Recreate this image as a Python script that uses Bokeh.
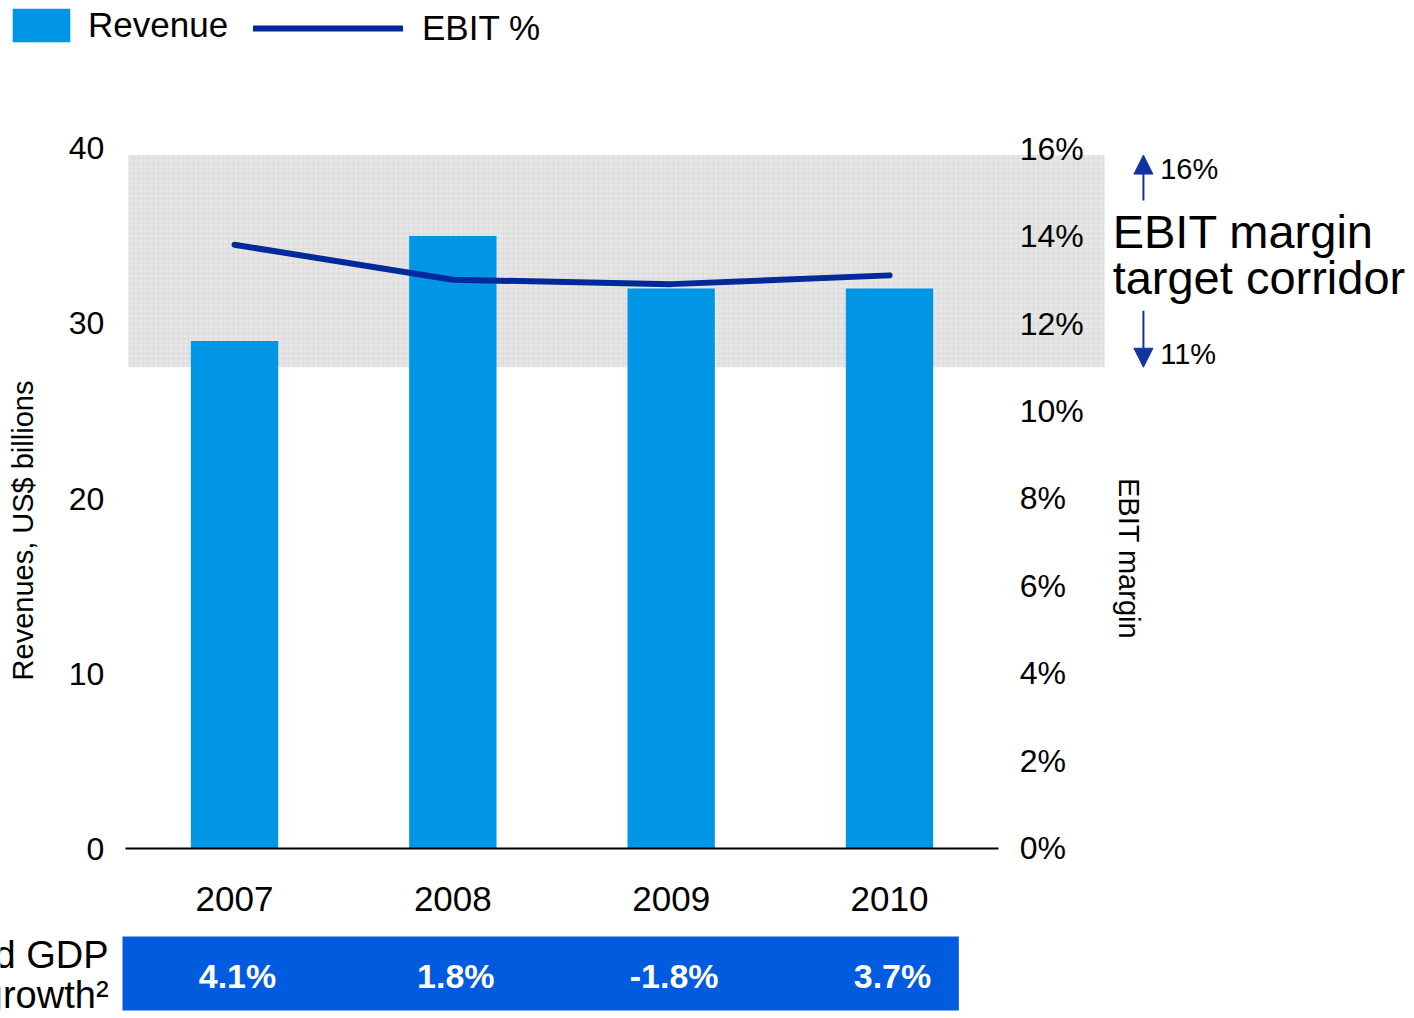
from bokeh.plotting import figure
from bokeh.models import (Range1d, LinearAxis, FixedTicker, Legend, LegendItem,
                          Arrow, NormalHead)
from bokeh.core.properties import value
from bokeh.embed import file_html
from bokeh.resources import INLINE
import math

# ---------------- data ----------------
years = ["2007", "2008", "2009", "2010"]
revenue = [29.0, 35.0, 32.0, 32.0]          # US$ billions
ebit_pct = [13.8, 13.0, 12.9, 13.1]         # EBIT margin, %
gdp_growth = ["4.1%", "1.8%", "-1.8%", "3.7%"]
revenue_ticks = [0, 10, 20, 30, 40]
pct_ticks = [0, 2, 4, 6, 8, 10, 12, 14, 16]
pct_tick_labels = ["0%", "2%", "4%", "6%", "8%", "10%", "12%", "14%", "16%"]
corridor_pct = [11.0, 15.85]                 # drawn band (low, high)
corridor_labels = ["16%", "11%"]
gdp_label = ["World GDP", "growth\u00b2"]

FONT_S = "Liberation Sans"
FONT = value(FONT_S)
BAR_C = "#0096e6"
LINE_C = "#00299a"
GDP_C = "#005bdf"
ARROW_C = "#12349e"

xs = list(range(len(years)))

W, H = 1414, 1018
p = figure(width=W, height=H, output_backend="svg", toolbar_location=None,
           x_range=Range1d(-1.0718, 5.4046), y_range=Range1d(-9.714, 48.457),
           x_axis_type=None, y_axis_type=None, min_border=0,
           background_fill_color="white", border_fill_color="white")
p.extra_y_ranges = {"pct": Range1d(-3.886, 19.383)}
p.outline_line_color = None

# corridor band
p.quad(left=[-0.485], right=[3.985], bottom=[corridor_pct[0]], top=[corridor_pct[1]],
       y_range_name="pct", fill_color="#e6e6e6", line_color=None,
       hatch_pattern="cross", hatch_color="#dcdcdc", hatch_scale=5, hatch_weight=1)

# bars
bars = p.vbar(x=xs, top=revenue, bottom=0, width=0.4, fill_color=BAR_C, line_color=None)

# EBIT line
ln = p.line(xs, ebit_pct, y_range_name="pct", line_width=6, line_color=LINE_C,
            line_cap="round", line_join="round")

# axes
left = LinearAxis(ticker=FixedTicker(ticks=revenue_ticks, minor_ticks=[]),
                  fixed_location=-0.5, axis_line_color=None,
                  major_tick_line_color=None, minor_tick_line_color=None,
                  major_label_standoff=15, major_label_text_font=FONT_S,
                  major_label_text_font_size="32px", major_label_text_color="black")
p.add_layout(left, "left")

right = LinearAxis(y_range_name="pct",
                   ticker=FixedTicker(ticks=pct_ticks, minor_ticks=[]),
                   major_label_overrides={t: l for t, l in zip(pct_ticks, pct_tick_labels)},
                   fixed_location=3.5, axis_line_color=None,
                   major_tick_line_color=None, minor_tick_line_color=None,
                   major_label_standoff=15, major_label_text_font=FONT_S,
                   major_label_text_font_size="32px", major_label_text_color="black")
p.add_layout(right, "right")

bottom = LinearAxis(ticker=FixedTicker(ticks=xs, minor_ticks=[]),
                    major_label_overrides={i: y for i, y in zip(xs, years)},
                    fixed_location=0, bounds=(-0.5, 3.5),
                    axis_line_color="black", axis_line_width=2,
                    major_tick_line_color=None, minor_tick_line_color=None,
                    major_label_standoff=32, major_label_text_font=FONT_S,
                    major_label_text_font_size="35px", major_label_text_color="black")
p.add_layout(bottom, "below")

# axis titles
p.text(x=[-0.971], y=[18.17], text=["Revenues, US$ billions"], angle=math.pi / 2,
       text_font=FONT, text_font_size="29px", text_align="center",
       text_baseline="middle", text_color="black")
p.text(x=[4.095], y=[16.57], text=["EBIT margin"], angle=-math.pi / 2,
       text_font=FONT, text_font_size="29px", text_align="center",
       text_baseline="middle", text_color="black")

# corridor annotation
p.text(x=[4.022, 4.022], y=[35.26, 32.63], text=["EBIT margin", "target corridor"],
       text_font=FONT, text_font_size="47px", text_align="left",
       text_baseline="middle", text_color="black")
p.text(x=[4.24, 4.24], y=[15.54, 11.31], text=corridor_labels, y_range_name="pct",
       text_font=FONT, text_font_size="29px", text_align="left",
       text_baseline="middle", text_color="black")
p.add_layout(Arrow(x_start=4.163, y_start=14.81, x_end=4.163, y_end=corridor_pct[1],
                   y_range_name="pct", line_color=ARROW_C, line_width=2,
                   end=NormalHead(size=19, fill_color=ARROW_C, line_color=ARROW_C)))
p.add_layout(Arrow(x_start=4.163, y_start=12.29, x_end=4.163, y_end=corridor_pct[0],
                   y_range_name="pct", line_color=ARROW_C, line_width=2,
                   end=NormalHead(size=19, fill_color=ARROW_C, line_color=ARROW_C)))

# GDP strip
p.quad(left=[-0.513], right=[3.3175], bottom=[-9.257], top=[-5.03],
       fill_color=GDP_C, line_color=None)
p.text(x=xs, y=[-7.257] * len(xs), text=gdp_growth, text_font=FONT,
       text_font_size="34px", text_font_style="bold", text_color="white",
       text_align="center", text_baseline="middle", x_offset=3)
p.text(x=[-0.577, -0.577], y=[-6.114, -8.343], text=gdp_label, text_font=FONT,
       text_font_size="38px", text_align="right", text_baseline="middle",
       text_color="black")

# legends
leg1 = Legend(items=[LegendItem(label="Revenue", renderers=[bars])],
              location=(5, H - 4 - 42), glyph_width=72, glyph_height=42, label_standoff=11,
              padding=0, margin=0, border_line_color=None, background_fill_alpha=0,
              label_text_font=FONT_S, label_text_font_size="35px", label_text_color="black")
leg2 = Legend(items=[LegendItem(label="EBIT %", renderers=[ln])],
              location=(253, H - 7 - 42), glyph_width=150, glyph_height=42, label_standoff=19,
              padding=0, margin=0, border_line_color=None, background_fill_alpha=0,
              label_text_font=FONT_S, label_text_font_size="35px", label_text_color="black")
p.add_layout(leg1)
p.add_layout(leg2)

open("out.html", "w").write(file_html(p, INLINE))
